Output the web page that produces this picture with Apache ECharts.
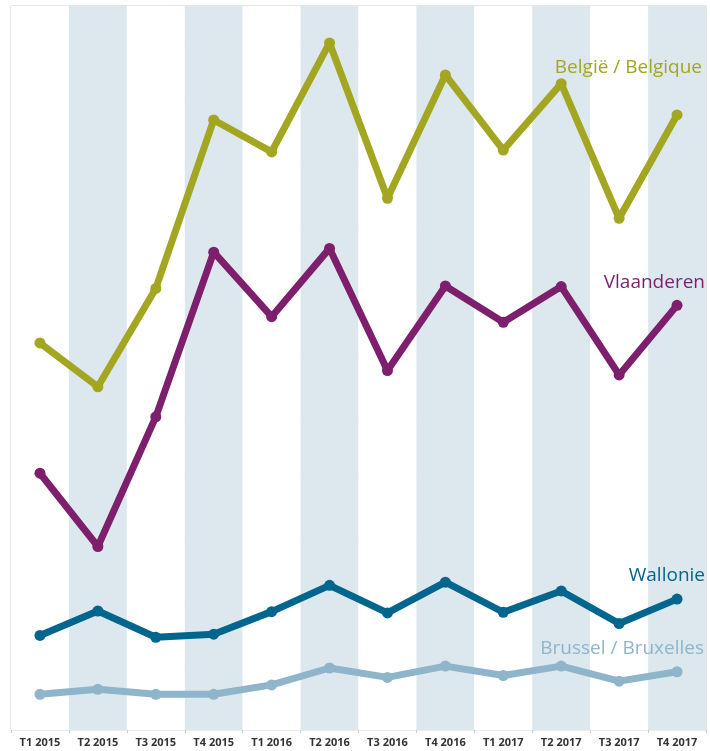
<!DOCTYPE html>
<html>
<head>
<meta charset="utf-8">
<script src="https://cdn.jsdelivr.net/npm/echarts@6/dist/echarts.min.js"></script>
<style>
html,body{margin:0;padding:0;background:#fff;}
#chart{width:710px;height:751px;}
</style>
</head>
<body>
<div id="chart"></div>
<script>
const categories = ['T1 2015','T2 2015','T3 2015','T4 2015','T1 2016','T2 2016','T3 2016','T4 2016','T1 2017','T2 2017','T3 2017','T4 2017'];
const belgie = [6.18, 5.48, 7.05, 9.74, 9.23, 10.97, 8.49, 10.46, 9.26, 10.32, 8.17, 9.82];
const vlaanderen = [4.10, 2.93, 5.00, 7.63, 6.60, 7.69, 5.74, 7.09, 6.51, 7.08, 5.67, 6.78];
const wallonie = [1.51, 1.90, 1.48, 1.53, 1.89, 2.31, 1.87, 2.36, 1.88, 2.22, 1.70, 2.09];
const brussel = [0.57, 0.65, 0.57, 0.57, 0.72, 0.99, 0.84, 1.02, 0.87, 1.02, 0.78, 0.93];
const seriesNames = ['België / Belgique', 'Vlaanderen', 'Wallonie', 'Brussel / Bruxelles'];
const colors = ['#a3a620', '#7d1f6c', '#00668e', '#8fb5cb'];

const chart = echarts.init(document.getElementById('chart'));
function mk(name, data, color) {
  return {
    name: name, type: 'line', data: data,
    symbol: 'circle', symbolSize: 11,
    lineStyle: {width: 7, color: color},
    itemStyle: {color: color},
    emphasis: {disabled: true},
    z: 3
  };
}
const labelFont = '"Open Sans", "Noto Sans", sans-serif';
function lbl(text, x, y, color) {
  return {type: 'text', x: x, y: y, z: 100, silent: true,
    style: {text: text, fill: color, fontSize: 19, fontFamily: labelFont, align: 'right', verticalAlign: 'middle'}};
}
chart.setOption({
  animation: false,
  grid: {left: 11, right: 4, top: 6, bottom: 21, show: true, borderColor: '#cccccc', borderWidth: 1, backgroundColor: 'transparent'},
  xAxis: {
    type: 'category', data: categories, boundaryGap: true,
    axisLine: {show: false},
    axisTick: {show: true, alignWithLabel: false, length: 3, lineStyle: {color: '#cccccc'}},
    axisLabel: {color: '#333333', fontSize: 11, fontWeight: 'bold', margin: 7, fontFamily: labelFont},
    splitArea: {show: true, areaStyle: {color: ['#ffffff', '#dde7ee']}},
    splitLine: {show: false}
  },
  yAxis: {
    type: 'value', min: 0, max: 11.56, interval: 1,
    axisLabel: {show: false}, axisTick: {show: false}, axisLine: {show: false},
    splitLine: {show: true, lineStyle: {color: '#ebebeb', width: 1}}
  },
  series: [
    mk(seriesNames[3], brussel, colors[3]),
    mk(seriesNames[2], wallonie, colors[2]),
    mk(seriesNames[1], vlaanderen, colors[1]),
    mk(seriesNames[0], belgie, colors[0])
  ],
  graphic: {elements: [
    lbl(seriesNames[0], 702, 68, colors[0]),
    lbl(seriesNames[1], 705, 283, colors[1]),
    lbl(seriesNames[2], 705, 576, colors[2]),
    lbl(seriesNames[3], 704, 649, colors[3])
  ]}
});
</script>
</body>
</html>
